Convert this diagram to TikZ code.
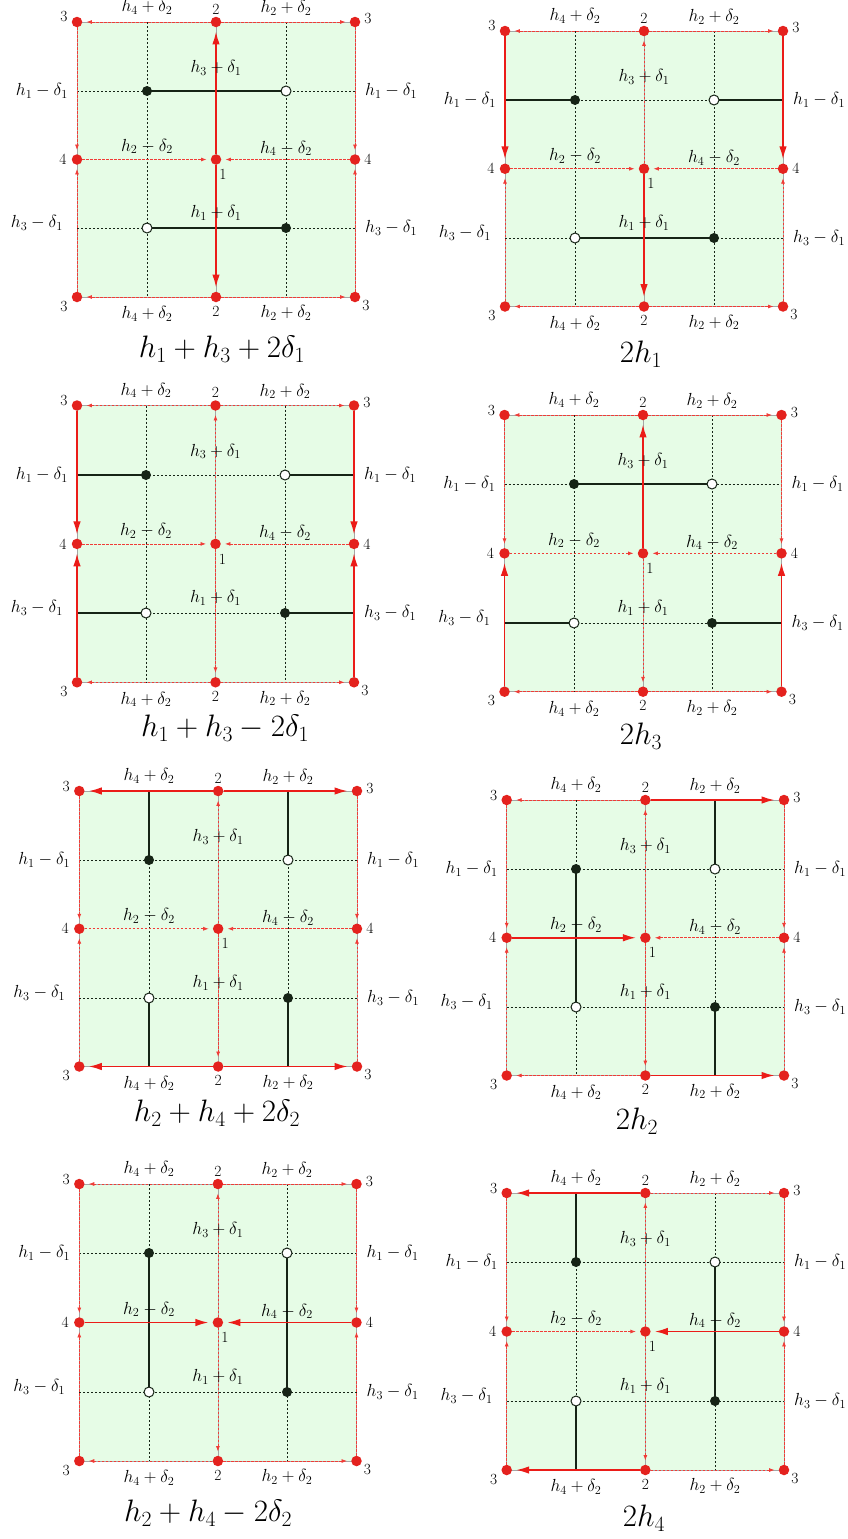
\RequirePackage{fix-cm}
\documentclass[tikz,border=0pt]{standalone}
\usetikzlibrary{arrows.meta}
\definecolor{gfill}{RGB}{230,252,230}
\definecolor{rdotc}{RGB}{228,34,30}
\definecolor{rline}{RGB}{235,28,24}
\definecolor{rthin}{RGB}{240,60,55}
\definecolor{blk}{RGB}{22,36,22}
\tikzset{
 rdot/.style={circle,fill=rdotc,inner sep=0pt,minimum size=10.5pt},
 fdot/.style={circle,fill=blk,inner sep=0pt,minimum size=10pt},
 odot/.style={circle,draw=blk,fill=white,line width=1pt,inner sep=0pt,minimum size=10pt},
 thinA/.style={rthin,line width=0.8pt,dash pattern=on 2.5pt off 1.5pt,-{Latex[length=5.5pt,width=4pt]},shorten >=4pt},
 thickA/.style={rline,line width=1.6pt,-{Latex[length=13pt,width=7.5pt]},shorten >=4pt},
 gridl/.style={blk,line width=0.9pt,dash pattern=on 2pt off 2pt},
 bseg/.style={blk,line width=2.2pt},
 edgeline/.style={gray!70,line width=0.7pt},
 lab/.style={font=\fontsize{17.5}{20}\selectfont,inner sep=0pt},
 num/.style={font=\fontsize{15.5}{18}\selectfont,inner sep=0pt},
 captxt/.style={font=\fontsize{31}{36}\selectfont,inner sep=0pt},
}
\newcommand\resetarrows{\tikzset{arTL/.style={thinA},arTR/.style={thinA},arBL/.style={thinA},arBR/.style={thinA},
 arLU/.style={thinA},arLL/.style={thinA},arRU/.style={thinA},arRL/.style={thinA},
 arML/.style={thinA},arMR/.style={thinA},arCU/.style={thinA},arCD/.style={thinA}}}
% #1 prefix, #2 L, #3 T, #4 R, #5 B, #6 black segments
\newcommand\drawpanel[6]{%
 \pgfmathsetmacro\pL{#2}\pgfmathsetmacro\pT{#3}\pgfmathsetmacro\pR{#4}\pgfmathsetmacro\pB{#5}%
 \pgfmathsetmacro\pxA{round(#2+0.25*(#4-#2))}\pgfmathsetmacro\pxM{#2+0.5*(#4-#2)}\pgfmathsetmacro\pxB{round(#2+0.75*(#4-#2))}%
 \pgfmathsetmacro\pyA{round(#3+0.25*(#5-#3))}\pgfmathsetmacro\pyM{#3+0.5*(#5-#3)}\pgfmathsetmacro\pyB{round(#3+0.75*(#5-#3))}%
 \fill[gfill] (\pL,\pT) rectangle (\pR,\pB);
 \draw[edgeline] (\pL,\pT) rectangle (\pR,\pB);
 \draw[edgeline] (\pxM,\pT) -- (\pxM,\pB);
 \coordinate (#1eLA) at (\pL,\pyA); \coordinate (#1eRA) at (\pR,\pyA);
 \coordinate (#1eLB) at (\pL,\pyB); \coordinate (#1eRB) at (\pR,\pyB);
 \coordinate (#1eTA) at (\pxA,\pT); \coordinate (#1eTB) at (\pxB,\pT);
 \coordinate (#1eBA) at (\pxA,\pB); \coordinate (#1eBB) at (\pxB,\pB);
 \coordinate (#1A) at (\pxA,\pyA); \coordinate (#1B) at (\pxB,\pyA);
 \coordinate (#1C) at (\pxA,\pyB); \coordinate (#1D) at (\pxB,\pyB);
 \draw[gridl] (#1eLA) -- (#1eRA);
 \draw[gridl] (#1eLB) -- (#1eRB);
 \draw[gridl] (#1eTA) -- (#1eBA);
 \draw[gridl] (#1eTB) -- (#1eBB);
 #6
 \node[fdot] (#1fA) at (#1A) {};
 \node[odot] (#1oB) at (#1B) {};
 \node[odot] (#1oC) at (#1C) {};
 \node[fdot] (#1fD) at (#1D) {};
 \node[rdot] (#1d3tl) at (\pL,\pT) {};
 \node[rdot] (#1d3tr) at (\pR,\pT) {};
 \node[rdot] (#1d3bl) at (\pL,\pB) {};
 \node[rdot] (#1d3br) at (\pR,\pB) {};
 \node[rdot] (#1d2t) at (\pxM,\pT) {};
 \node[rdot] (#1d2b) at (\pxM,\pB) {};
 \node[rdot] (#1d4l) at (\pL,\pyM) {};
 \node[rdot] (#1d4r) at (\pR,\pyM) {};
 \node[rdot] (#1d1) at (\pxM,\pyM) {};
 \draw[arTL] (#1d2t) -- (#1d3tl);
 \draw[arTR] (#1d2t) -- (#1d3tr);
 \draw[arBL] (#1d2b) -- (#1d3bl);
 \draw[arBR] (#1d2b) -- (#1d3br);
 \draw[arLU] (#1d3tl) -- (#1d4l);
 \draw[arLL] (#1d3bl) -- (#1d4l);
 \draw[arRU] (#1d3tr) -- (#1d4r);
 \draw[arRL] (#1d3br) -- (#1d4r);
 \draw[arML] (#1d4l) -- (#1d1);
 \draw[arMR] (#1d4r) -- (#1d1);
 \draw[arCU] (#1d1) -- (#1d2t);
 \draw[arCD] (#1d1) -- (#1d2b);
 \node[num] (#1q1) at (\pL-13,\pT-5) {3};
 \node[num] (#1q2) at (\pR+13,\pT-3) {3};
 \node[num] (#1q3) at (\pL-13,\pB+9) {3};
 \node[num] (#1q4) at (\pR+11,\pB+8) {3};
 \node[num] (#1q5) at (\pxM,\pT-13) {2};
 \node[num] (#1q6) at (\pxM,\pB+14) {2};
 \node[num] (#1q7) at (\pL-14,\pyM) {4};
 \node[num] (#1q8) at (\pR+13,\pyM) {4};
 \node[num] (#1q9) at (\pxM+7,\pyM+15) {1};
 \node[lab] (#1s1) at (\pxA,\pT-15) {$h_4+\delta_2$};
 \node[lab] (#1s2) at (\pxB,\pT-14) {$h_2+\delta_2$};
 \node[lab] (#1s3) at (\pxA,\pB+17) {$h_4+\delta_2$};
 \node[lab] (#1s4) at (\pxB,\pB+16) {$h_2+\delta_2$};
 \node[lab,anchor=east] (#1s5) at (\pL-9,\pyA) {$h_1-\delta_1$};
 \node[lab,anchor=west] (#1s6) at (\pR+10,\pyA) {$h_1-\delta_1$};
 \node[lab,anchor=east] (#1s7) at (\pL-14,\pyB-5) {$h_3-\delta_1$};
 \node[lab,anchor=west] (#1s8) at (\pR+10,\pyB) {$h_3-\delta_1$};
 \node[lab] (#1s9) at (\pxM,\pT+46) {$h_3+\delta_1$};
 \node[lab] (#1s10) at (\pxA,\pyM-13) {$h_2-\delta_2$};
 \node[lab] (#1s11) at (\pxB,\pyM-11) {$h_4-\delta_2$};
 \node[lab] (#1s12) at (\pxM,\pyB-15) {$h_1+\delta_1$};
}
\begin{document}
\begin{tikzpicture}[x=1pt,y=-1pt]
\fill[white] (0,0) rectangle (847,1539);
\useasboundingbox (0,0) rectangle (847,1539);
% Panel 1
\resetarrows\tikzset{arCU/.style={thickA},arCD/.style={thickA}}
\drawpanel{Pa}{77}{22}{355}{297}{\draw[bseg] (PaA) -- (PaB); \draw[bseg] (PaC) -- (PaD);}
\node[captxt] (capa) at (222,349) {$h_1+h_3+2\delta_1$};
% Panel 2
\resetarrows\tikzset{arLU/.style={thickA},arRU/.style={thickA},arCD/.style={thickA}}
\drawpanel{Pb}{505}{31}{783}{306.5}{\draw[bseg] (PbeLA) -- (PbA); \draw[bseg] (PbB) -- (PbeRA); \draw[bseg] (PbC) -- (PbD);}
\node[captxt] (capb) at (641,354) {$2h_1$};
% Panel 3
\resetarrows\tikzset{arLU/.style={thickA},arLL/.style={thickA},arRU/.style={thickA},arRL/.style={thickA}}
\drawpanel{Pc}{77}{405.5}{354}{682.3}{\draw[bseg] (PceLA) -- (PcA); \draw[bseg] (PcB) -- (PceRA); \draw[bseg] (PceLB) -- (PcC); \draw[bseg] (PcD) -- (PceRB);}
\node[captxt] (capc) at (225,728) {$h_1+h_3-2\delta_1$};
% Panel 4
\resetarrows\tikzset{arCU/.style={thickA},arLL/.style={thickA},arRL/.style={thickA}}
\drawpanel{Pd}{504.5}{415}{781.5}{691.7}{\draw[bseg] (PdA) -- (PdB); \draw[bseg] (PdeLB) -- (PdC); \draw[bseg] (PdD) -- (PdeRB);}
\node[captxt] (capd) at (641,736) {$2h_3$};
% Panel 5
\resetarrows\tikzset{arTL/.style={thickA},arTR/.style={thickA},arBL/.style={thickA},arBR/.style={thickA}}
\drawpanel{Pe}{79.3}{791}{357}{1066.5}{\draw[bseg] (PeeTA) -- (PeA); \draw[bseg] (PeeTB) -- (PeB); \draw[bseg] (PeC) -- (PeeBA); \draw[bseg] (PeD) -- (PeeBB);}
\node[captxt] (cape) at (217,1113) {$h_2+h_4+2\delta_2$};
% Panel 6
\resetarrows\tikzset{arTR/.style={thickA},arBR/.style={thickA},arML/.style={thickA}}
\drawpanel{Pf}{506.7}{800}{784}{1075.5}{\draw[bseg] (PfA) -- (PfC); \draw[bseg] (PfeTB) -- (PfB); \draw[bseg] (PfD) -- (PfeBB);}
\node[captxt] (capf) at (637,1121) {$2h_2$};
% Panel 7
\resetarrows\tikzset{arML/.style={thickA},arMR/.style={thickA}}
\drawpanel{Pg}{79.3}{1184}{356.5}{1461}{\draw[bseg] (PgA) -- (PgC); \draw[bseg] (PgB) -- (PgD);}
\node[captxt] (capg) at (208,1513) {$h_2+h_4-2\delta_2$};
% Panel 8
\resetarrows\tikzset{arTL/.style={thickA},arBL/.style={thickA},arMR/.style={thickA}}
\drawpanel{Ph}{506.7}{1193}{784}{1470}{\draw[bseg] (PheTA) -- (PhA); \draw[bseg] (PhC) -- (PheBA); \draw[bseg] (PhB) -- (PhD);}
\node[captxt] (caph) at (644,1518) {$2h_4$};
\end{tikzpicture}
\end{document}
